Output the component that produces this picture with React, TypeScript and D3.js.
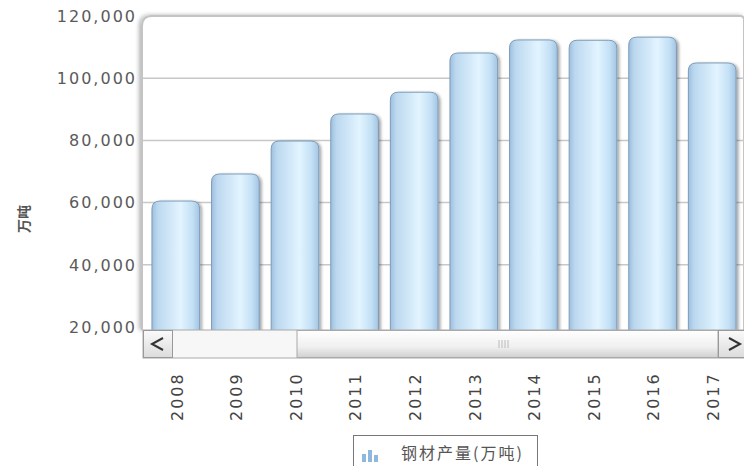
import React from "react";
import * as d3 from "d3";

const years = ["2008", "2009", "2010", "2011", "2012", "2013", "2014", "2015", "2016", "2017"];
const output = [60500, 69200, 79800, 88500, 95500, 108100, 112300, 112200, 113200, 104900];
const yTicks = [20000, 40000, 60000, 80000, 100000, 120000];
const seriesName = "钢材产量(万吨)";
const yTitle = "万吨";

export default function App() {
  const W = 744, H = 466;
  const plotL = 142, plotT = 16, plotR = 744, plotB = 330;
  const x = d3.scaleBand<string>().domain(years).range([146, 742]).paddingInner(0.2).paddingOuter(0.1);
  const y = d3.scaleLinear().domain([20000, 120000]).range([327, 16]);
  const fmt = d3.format(",");
  const bw = x.bandwidth();
  const r = 8;
  const barPath = (x0: number, top: number, w: number, bottom: number) =>
    `M${x0},${bottom}V${top + r}Q${x0},${top} ${x0 + r},${top}H${x0 + w - r}Q${x0 + w},${top} ${x0 + w},${top + r}V${bottom}Z`;
  const font = "Verdana, 'DejaVu Sans', sans-serif";
  const ls = 2;
  return (
    <svg width={W} height={H} style={{ position: "absolute", left: 0, top: 0, background: "#fff" }}>
      <defs>
        <linearGradient id="barg" x1="0" x2="1" y1="0" y2="0">
          <stop offset="0" stopColor="#9dbfdf" />
          <stop offset="0.12" stopColor="#bcd8ef" />
          <stop offset="0.6" stopColor="#e2f4ff" />
          <stop offset="0.85" stopColor="#c3e0f5" />
          <stop offset="1" stopColor="#a3c4e2" />
        </linearGradient>
        <linearGradient id="thumb" x1="0" x2="0" y1="0" y2="1">
          <stop offset="0" stopColor="#ffffff" />
          <stop offset="0.6" stopColor="#f0f0f0" />
          <stop offset="1" stopColor="#d0d0d0" />
        </linearGradient>
        <linearGradient id="btn" x1="0" x2="0" y1="0" y2="1">
          <stop offset="0" stopColor="#fafafa" />
          <stop offset="1" stopColor="#dcdcdc" />
        </linearGradient>
        <filter id="shadow" x="-20%" y="-20%" width="140%" height="140%">
          <feGaussianBlur in="SourceAlpha" stdDeviation="1.5" />
          <feOffset dx="2" dy="1" result="b" />
          <feComponentTransfer><feFuncA type="linear" slope="0.35" /></feComponentTransfer>
          <feMerge><feMergeNode /><feMergeNode in="SourceGraphic" /></feMerge>
        </filter>
        <filter id="fshadow" x="-5%" y="-5%" width="110%" height="110%">
          <feGaussianBlur in="SourceAlpha" stdDeviation="2" />
          <feOffset dx="-2" dy="0" />
          <feComponentTransfer><feFuncA type="linear" slope="0.3" /></feComponentTransfer>
          <feMerge><feMergeNode /><feMergeNode in="SourceGraphic" /></feMerge>
        </filter>
        <clipPath id="plotclip">
          <rect x={plotL} y={plotT} width={plotR - plotL} height={plotB - plotT} />
        </clipPath>
      </defs>

      {/* plot frame with shadow */}
      <path d={`M${plotL},${plotB}V${plotT + 10}Q${plotL},${plotT} ${plotL + 10},${plotT}H${plotR - 4}Q${plotR},${plotT} ${plotR},${plotT + 4}V${plotB}`}
        fill="#fff" stroke="#c4c4c4" strokeWidth={2} filter="url(#fshadow)" />

      {/* grid */}
      {yTicks.filter(t => t > 20000 && t < 120000).map(t => (
        <line key={t} x1={plotL + 1} x2={plotR} y1={y(t)} y2={y(t)} stroke="#c8c8c8" strokeWidth={1.5} />
      ))}

      {/* bars */}
      <g clipPath="url(#plotclip)">
        {years.map((yr, i) => (
          <path key={yr} d={barPath(x(yr)!, y(output[i]), bw, plotB + 2)} fill="url(#barg)" stroke="#7d9cb8" strokeWidth={1} filter="url(#shadow)" />
        ))}
      </g>

      {/* y tick labels */}
      {yTicks.map(t => (
        <text key={t} x={135 + ls} y={y(t)} dy="0.36em" textAnchor="end" fontFamily={font} fontSize={16} letterSpacing={ls} fill="#5a5a5a">{fmt(t)}</text>
      ))}

      {/* y title */}
      <text transform={`translate(24,219) rotate(-90)`} dy="0.35em" textAnchor="middle" fontFamily="'Noto Sans CJK SC', sans-serif" fontSize={14} fontWeight="bold" fill="#555">{yTitle}</text>

      {/* scrollbar */}
      <rect x={143} y={330} width={601} height={28} fill="#f7f7f7" stroke="#aaa" />
      <rect x={297} y={330.5} width={421} height={27} fill="url(#thumb)" stroke="#aaa" />
      {[0, 1, 2, 3].map(k => (
        <line key={k} x1={499 + k * 3} x2={499 + k * 3} y1={340} y2={348} stroke="#bbb" />
      ))}
      <rect x={143.5} y={330.5} width={29} height={27} fill="url(#btn)" stroke="#999" />
      <path d="M163,338L152,344L163,350" fill="none" stroke="#333" strokeWidth={2} />
      <rect x={718.5} y={330.5} width={26} height={27} fill="url(#btn)" stroke="#999" />
      <path d="M729,338L740,344L729,350" fill="none" stroke="#333" strokeWidth={2} />

      {/* x labels */}
      {years.map(yr => {
        const cx = x(yr)! + bw / 2;
        return (
          <text key={yr} transform={`translate(${cx + 1},421) rotate(-90)`} dy="0.36em" textAnchor="start" fontFamily={font} fontSize={16} letterSpacing={ls} fill="#444">{yr}</text>
        );
      })}

      {/* legend */}
      <rect x={353.5} y={435.5} width={184} height={40} fill="#fff" stroke="#777" />
      {[{ dx: 0, h: 8 }, { dx: 6, h: 12 }, { dx: 12, h: 7 }].map((b, i) => (
        <rect key={i} x={362 + b.dx} y={462 - b.h} width={4} height={b.h} fill="#8fb8df" />
      ))}
      <text x={401} y={453} dy="0.35em" fontFamily="'Noto Sans CJK SC', sans-serif" fontSize={16} letterSpacing={2} fill="#555">{seriesName}</text>
    </svg>
  );
}
